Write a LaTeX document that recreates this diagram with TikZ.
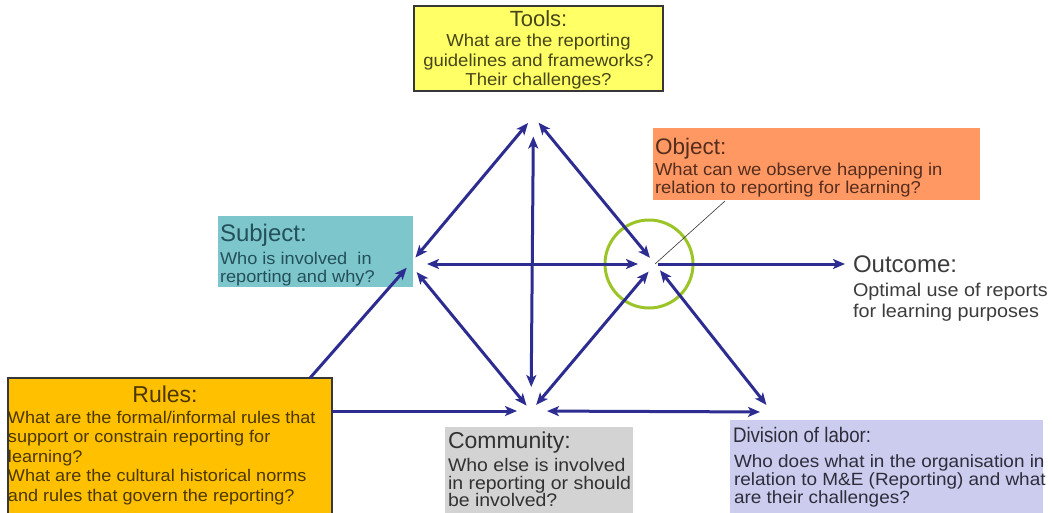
\documentclass[tikz,border=0pt]{standalone}
\usepackage{fontspec}
\setmainfont{Liberation Sans}
\newfontfamily\bodyfont{Liberation Sans}[FakeStretch=1.07]
\newfontfamily\narrowfont{Liberation Sans}[FakeStretch=0.89]
\usetikzlibrary{arrows.meta,calc}

% fills
\definecolor{toolsfill}{RGB}{255,255,102}
\definecolor{objfill}{RGB}{255,152,98}
\definecolor{subjfill}{RGB}{125,198,204}
\definecolor{rulesfill}{RGB}{255,192,0}
\definecolor{commfill}{RGB}{211,211,211}
\definecolor{divfill}{RGB}{204,204,238}
% inks
\definecolor{toolsink}{RGB}{70,70,25}
\definecolor{objink}{RGB}{85,45,30}
\definecolor{subjink}{RGB}{35,80,90}
\definecolor{rulesink}{RGB}{75,55,0}
\definecolor{commink}{RGB}{50,50,50}
\definecolor{divink}{RGB}{45,45,60}
\definecolor{outink}{RGB}{60,60,60}
% lines
\definecolor{linkblue}{RGB}{45,45,145}
\definecolor{boxedge}{RGB}{55,55,55}
\definecolor{ringgreen}{RGB}{155,196,40}

\begin{document}
\begin{tikzpicture}[x=1pt,y=-1pt,
  >={Stealth[length=12pt,width=10pt,inset=3pt]},
  panel/.style={rectangle, inner sep=0pt, outer sep=0pt, anchor=north west},
  framed/.style={draw=boxedge, line width=1.2pt},
  txt/.style={inner sep=0pt, outer sep=0pt, anchor=base west},
  ctxt/.style={inner sep=0pt, outer sep=0pt, anchor=base},
  ttl/.style={font=\fontsize{#1}{#1}\selectfont},
  bdy/.style={font=\bodyfont\fontsize{#1}{#1}\selectfont},
  oneway/.style={draw=linkblue, line width=3pt, ->},
  twoway/.style={draw=linkblue, line width=3pt, <->},
  ring/.style={circle, draw=ringgreen, line width=3pt, minimum size=88pt, inner sep=0pt},
]
\useasboundingbox (0,0) rectangle (1052,512);

% ---------- boxes ----------
\node[panel, framed, fill=toolsfill, minimum width=249pt, minimum height=85pt] (tools) at (414,6) {};
\node[panel, fill=objfill, minimum width=327pt, minimum height=72pt] (object) at (653,128) {};
\node[panel, fill=subjfill, minimum width=195pt, minimum height=71pt] (subject) at (218,216) {};
\node[panel, framed, fill=rulesfill, minimum width=324pt, minimum height=137pt] (rules) at (8,378) {};
\node[panel, fill=commfill, minimum width=188pt, minimum height=90pt] (community) at (445,427) {};
\node[panel, fill=divfill, minimum width=313pt, minimum height=95pt] (division) at (730,420) {};

% ---------- texts ----------
\begin{scope}[text=toolsink]
\node[ctxt, ttl=22] (toolsT) at (538.5,26) {Tools:};
\node[ctxt, bdy=17.3] (tools1) at (538.5,46) {What are the reporting};
\node[ctxt, bdy=17.3] (tools2) at (538.5,66) {guidelines and frameworks?};
\node[ctxt, bdy=17.3] (tools3) at (538.5,85.5) {Their challenges?};
\end{scope}

\begin{scope}[text=objink]
\node[txt, ttl=22.5] (objT) at (655,154) {Object:};
\node[txt, bdy=17.2] (obj1) at (655,175.5) {What can we observe happening in};
\node[txt, bdy=17.2] (obj2) at (655,193.5) {relation to reporting for learning?};
\end{scope}

\begin{scope}[text=subjink]
\node[txt, ttl=24] (subjT) at (220,241) {Subject:};
\node[txt, bdy=17] (subj1) at (220,264) {Who is involved\ \ in};
\node[txt, bdy=17] (subj2) at (220,282) {reporting and why?};
\end{scope}

\begin{scope}[text=outink]
\node[txt, ttl=24] (outT) at (853,272.5) {Outcome:};
\node[txt, bdy=18.5] (out1) at (853,296.5) {Optimal use of reports};
\node[txt, bdy=18.5] (out2) at (853,317.5) {for learning purposes};
\end{scope}

\begin{scope}[text=rulesink]
\node[ctxt, ttl=23] (rulesT) at (165,402) {Rules:};
\node[txt, bdy=16.9] (rules1) at (8,423) {What are the formal/informal rules that};
\node[txt, bdy=16.9] (rules2) at (8,442.5) {support or constrain reporting for};
\node[txt, bdy=16.9] (rules3) at (8,462) {learning?};
\node[txt, bdy=16.9] (rules4) at (8,481.5) {What are the cultural historical norms};
\node[txt, bdy=16.9] (rules5) at (8,501) {and rules that govern the reporting?};
\end{scope}

\begin{scope}[text=commink]
\node[txt, ttl=23] (commT) at (448,448) {Community:};
\node[txt, bdy=18.2] (comm1) at (448,471.5) {Who else is involved};
\node[txt, bdy=18.2] (comm2) at (448,489.5) {in reporting or should};
\node[txt, bdy=18.2] (comm3) at (448,506.5) {be involved?};
\end{scope}

\begin{scope}[text=divink]
\node[txt, font=\narrowfont\fontsize{21}{21}\selectfont] (divT) at (733,442) {Division of labor:};
\node[txt, bdy=17.7] (div1) at (734,467) {Who does what in the organisation in};
\node[txt, bdy=17.7] (div2) at (734,485) {relation to M\&E (Reporting) and what};
\node[txt, bdy=17.7] (div3) at (734,503) {are their challenges?};
\end{scope}

% ---------- hubs of the activity triangle ----------
\coordinate (T) at (533.5,116.5);
\coordinate (S) at (410,264);
\coordinate (O) at (655,264);
\coordinate (C) at (531,411);
\coordinate (D) at (772,412);
\coordinate (outEnd) at (845,264);
\coordinate (rulesUp) at ($(rules.north west)+(302,0)$);
\coordinate (rulesRight) at ($(rules.north east)+(0,33)$);
\coordinate (objTail) at ($(object.south west)+(72,1)$);

% focus ring around the object
\node[ring] (focus) at (649,264) {};
\draw[black!80, line width=0.6pt] (O) -- (objTail);

% ---------- connectors ----------
\draw[twoway, shorten <=8.5pt, shorten >=8.5pt] (T) -- (S);
\draw[twoway, shorten <=20pt, shorten >=24pt] (T) -- (C);
\draw[twoway, shorten <=8pt, shorten >=8pt] (T) -- (O);
\draw[twoway, shorten <=17pt, shorten >=17pt] (S) -- (O);
\draw[oneway, shorten <=3pt] (O) -- (outEnd);
\draw[twoway, shorten <=10.5pt, shorten >=7pt] (S) -- (C);
\draw[twoway, shorten <=8pt, shorten >=10pt] (C) -- (O);
\draw[twoway, shorten <=8pt, shorten >=9pt] (O) -- (D);
\draw[twoway, shorten <=16pt, shorten >=12pt] (C) -- (D);
\draw[oneway, shorten >=5pt] (rulesUp) -- (S);
\draw[oneway, shorten >=14pt] (rulesRight) -- (C);
\end{tikzpicture}
\end{document}
